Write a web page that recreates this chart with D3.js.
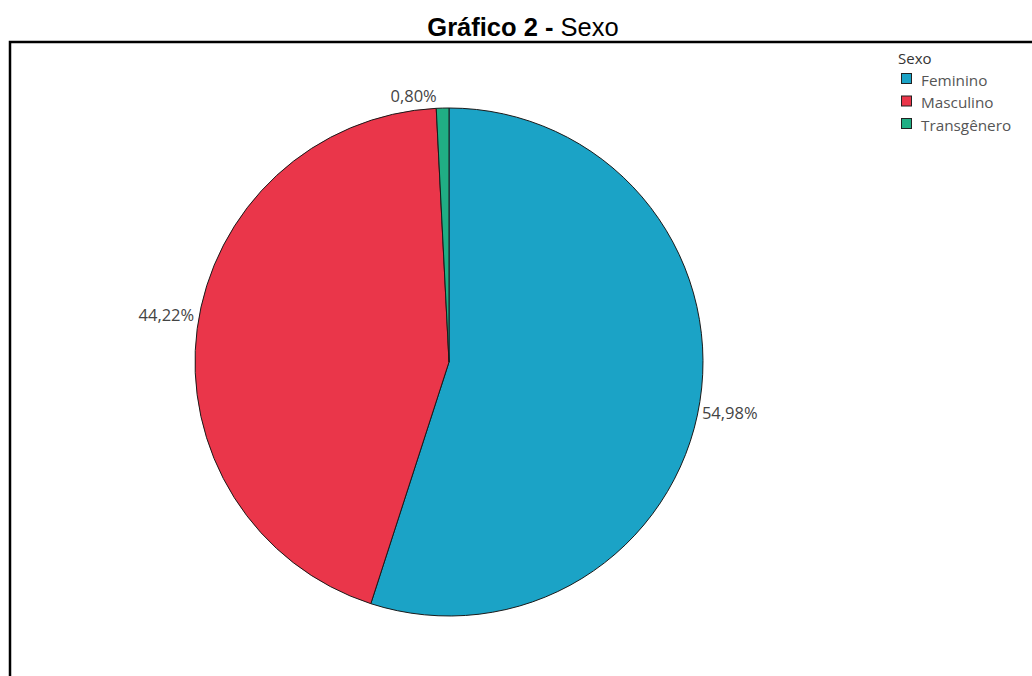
<!DOCTYPE html>
<html lang="pt">
<head>
<meta charset="utf-8">
<script src="https://cdn.jsdelivr.net/npm/d3@7"></script>
<style>
  html, body { margin: 0; padding: 0; background: #fff; }
  svg { display: block; }
</style>
</head>
<body>
<svg id="chart" width="1032" height="676"></svg>
<script>
// Distribuição por sexo (percentual)
const categories = ["Feminino", "Masculino", "Transgênero"];
const values = [54.98, 44.22, 0.80];
const labels = ["54,98%", "44,22%", "0,80%"];
const colors = ["#1ba3c6", "#ea364a", "#20ae84"];

const W = 1032, H = 676;
const svg = d3.select("#chart");
const cx = 449, cy = 362, radius = 254;

// Título
const title = svg.append("text")
  .attr("x", 523).attr("y", 36)
  .attr("text-anchor", "middle")
  .style("font-family", "'Liberation Sans', Arial, sans-serif")
  .style("font-size", "25.5px")
  .style("fill", "#000");
title.append("tspan").style("font-weight", "bold").text("Gráfico 2 - ");
title.append("tspan").text("Sexo");

// Moldura (topo e esquerda)
svg.append("path")
  .attr("d", `M${W},42 H10 V${H}`)
  .attr("fill", "none")
  .attr("stroke", "#000")
  .attr("stroke-width", 2.5);

const color = d3.scaleOrdinal().domain(categories).range(colors);

const data = categories.map((c, i) => ({ cat: c, value: values[i], label: labels[i] }));
const pie = d3.pie().value(d => d.value).sort(null);
const arc = d3.arc().innerRadius(0).outerRadius(radius);
const arcs = pie(data);

const g = svg.append("g").attr("transform", `translate(${cx},${cy})`);

g.selectAll("path.slice")
  .data(arcs)
  .enter().append("path")
  .attr("class", "slice")
  .attr("d", arc)
  .attr("fill", d => color(d.data.cat))
  .attr("stroke", "#1a1a1a")
  .attr("stroke-width", 1);

// Rótulos de percentual posicionados fora da borda
const labelFont = "'Open Sans', 'DejaVu Sans', sans-serif";
g.selectAll("text.pct")
  .data(arcs)
  .enter().append("text")
  .attr("class", "pct")
  .each(function(d) {
    const a = (d.startAngle + d.endAngle) / 2;
    const px = Math.sin(a) * radius;
    const py = -Math.cos(a) * radius;
    const t = d3.select(this);
    if (Math.abs(Math.sin(a)) < 0.2) {
      // rótulo no topo
      t.attr("x", px - 29).attr("y", py - 6).attr("text-anchor", "middle");
    } else if (px > 0) {
      t.attr("x", px + 2).attr("y", py + 17).attr("text-anchor", "start");
    } else {
      t.attr("x", px - 3).attr("y", py - 8).attr("text-anchor", "end");
    }
  })
  .style("font-family", labelFont)
  .style("font-size", "16.5px")
  .style("fill", "#444")
  .text(d => d.data.label);

// Legenda
const legend = svg.append("g").attr("transform", "translate(898,0)");
legend.append("text")
  .attr("x", 0).attr("y", 64)
  .style("font-family", labelFont)
  .style("font-size", "15px")
  .style("fill", "#333")
  .text("Sexo");

const item = legend.selectAll("g.item")
  .data(categories)
  .enter().append("g")
  .attr("class", "item")
  .attr("transform", (d, i) => `translate(0,${73 + i * 22.5})`);

item.append("rect")
  .attr("x", 3.5).attr("y", 0.5)
  .attr("width", 10).attr("height", 10)
  .attr("fill", d => color(d))
  .attr("stroke", "#222")
  .attr("stroke-width", 1);

item.append("text")
  .attr("x", 23).attr("y", 12.5)
  .style("font-family", labelFont)
  .style("font-size", "15.3px")
  .style("fill", "#555")
  .text(d => d);
</script>
</body>
</html>
